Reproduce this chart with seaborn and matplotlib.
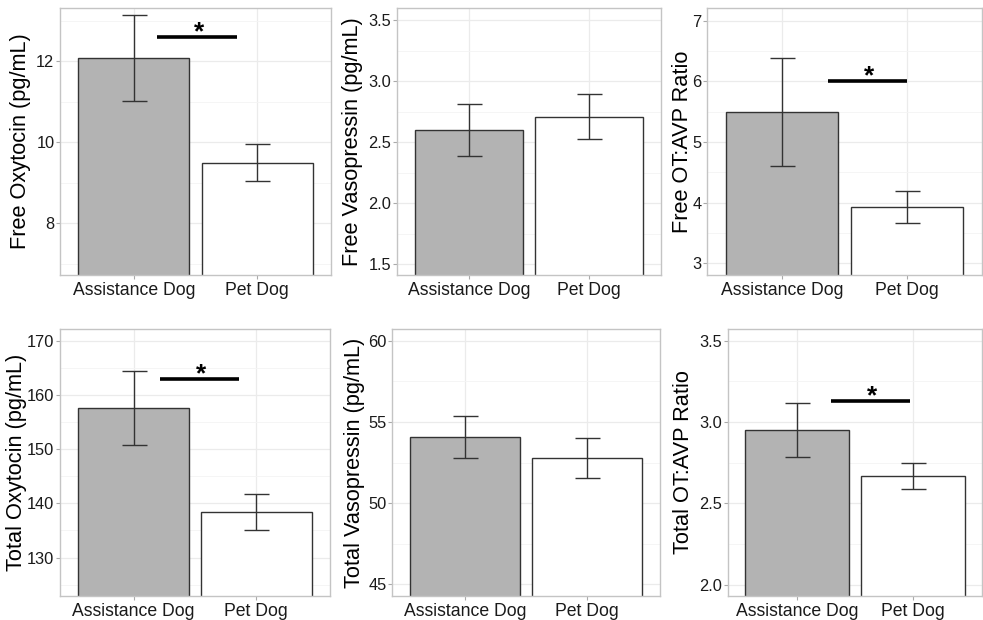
import numpy as np
import pandas as pd
import matplotlib
matplotlib.use("Agg")
import matplotlib.pyplot as plt
from matplotlib.ticker import AutoMinorLocator, FormatStrFormatter
import seaborn as sns

groups = ["Assistance Dog", "Pet Dog"]

# panel titles (y labels), row by row
labels = ["Free Oxytocin (pg/mL)", "Free Vasopressin (pg/mL)", "Free OT:AVP Ratio",
          "Total Oxytocin (pg/mL)", "Total Vasopressin (pg/mL)", "Total OT:AVP Ratio"]

# means and standard errors
free_ot_mean = [12.08, 9.49]
free_ot_se = [1.06, 0.46]
free_avp_mean = [2.60, 2.71]
free_avp_se = [0.215, 0.185]
free_ratio_mean = [5.49, 3.93]
free_ratio_se = [0.89, 0.27]
total_ot_mean = [157.55, 138.35]
total_ot_se = [6.85, 3.35]
total_avp_mean = [54.08, 52.77]
total_avp_se = [1.30, 1.23]
total_ratio_mean = [2.95, 2.666]
total_ratio_se = [0.165, 0.08]

means = [free_ot_mean, free_avp_mean, free_ratio_mean,
         total_ot_mean, total_avp_mean, total_ratio_mean]
ses = [free_ot_se, free_avp_se, free_ratio_se,
       total_ot_se, total_avp_se, total_ratio_se]

# axis ranges and ticks
ylims = [(6.72, 13.31), (1.41, 3.60), (2.81, 7.21),
         (122.9, 172.16), (44.28, 60.72), (1.93, 3.572)]
yticks = [[8, 10, 12], [1.5, 2.0, 2.5, 3.0, 3.5], [3, 4, 5, 6, 7],
          [130, 140, 150, 160, 170], [45, 50, 55, 60], [2.0, 2.5, 3.0, 3.5]]
tick_fmt = ["%d", "%.1f", "%d", "%d", "%d", "%.1f"]

# significance bars: (x start, x end, y), None where not significant
sig = [(0.19, 0.84, 12.59), None, (0.37, 1.0, 6.0),
       (0.215, 0.86, 162.9), None, (0.29, 0.975, 3.127)]

# panel boxes in pixels: left, right, top, bottom ; y-label anchor x
boxes = [(60, 331, 8, 275), (397, 661, 8, 275), (707, 982, 8, 275),
         (60, 330, 329, 596), (392, 660, 329, 596), (728, 982, 329, 596)]
label_x = [31, 363, 693, 27, 365, 694]

W, H = 983, 620
sns.set_theme(style="white")
plt.rcParams["font.family"] = ["Liberation Sans", "DejaVu Sans"]

fig = plt.figure(figsize=(W / 100, H / 100), dpi=100)
fig.patch.set_facecolor("white")

for i in range(6):
    l, r, t, b = boxes[i]
    ax = fig.add_axes([l / W, 1 - b / H, (r - l) / W, (b - t) / H])
    df = pd.DataFrame({"group": groups, "value": means[i]})
    sns.barplot(data=df, x="group", y="value", hue="group",
                palette=["#B3B3B3", "#FFFFFF"], edgecolor="#333333",
                linewidth=1.0, width=0.9, errorbar=None, legend=False,
                ax=ax, zorder=2)
    ax.errorbar(x=[0, 1], y=means[i], yerr=ses[i], fmt="none",
                ecolor="#333333", elinewidth=1.0, capsize=9, capthick=1.0,
                zorder=3)
    if sig[i] is not None:
        x0, x1, ys = sig[i]
        ax.plot([x0, x1], [ys, ys], color="black", lw=2.6, zorder=4,
                solid_capstyle="butt")
        ax.annotate("*", xy=((x0 + x1) / 2, ys), xytext=(1, -1.5),
                    textcoords="offset points", ha="center", va="baseline",
                    fontsize=19, fontweight="bold", color="black")

    ax.set_xlim(-0.6, 1.6)
    ax.set_ylim(*ylims[i])
    ax.set_yticks(yticks[i])
    ax.yaxis.set_major_formatter(FormatStrFormatter(tick_fmt[i]))
    ax.yaxis.set_minor_locator(AutoMinorLocator(2))
    ax.set_axisbelow(True)
    ax.grid(which="major", color="#EBEBEB", lw=0.9)
    ax.grid(which="minor", axis="y", color="#F4F4F4", lw=0.6)
    for s in ax.spines.values():
        s.set_color("#C4C4C4")
        s.set_linewidth(1.0)
    ax.tick_params(axis="x", which="major", length=3, width=0.8,
                   color="#AAAAAA", labelsize=12.7, labelcolor="#1A1A1A",
                   pad=2, bottom=True)
    ax.tick_params(axis="y", which="major", length=3, width=0.8,
                   color="#AAAAAA", labelsize=11.8, labelcolor="#1A1A1A",
                   pad=1, left=True)
    ax.tick_params(which="minor", length=0)
    ax.set_xlabel("")
    ax.set_ylabel(labels[i], fontsize=15.7, color="black")
    ax.yaxis.set_label_coords((label_x[i] - l) / (r - l), 0.5)

fig.savefig("out.png", dpi=100, facecolor="white")
